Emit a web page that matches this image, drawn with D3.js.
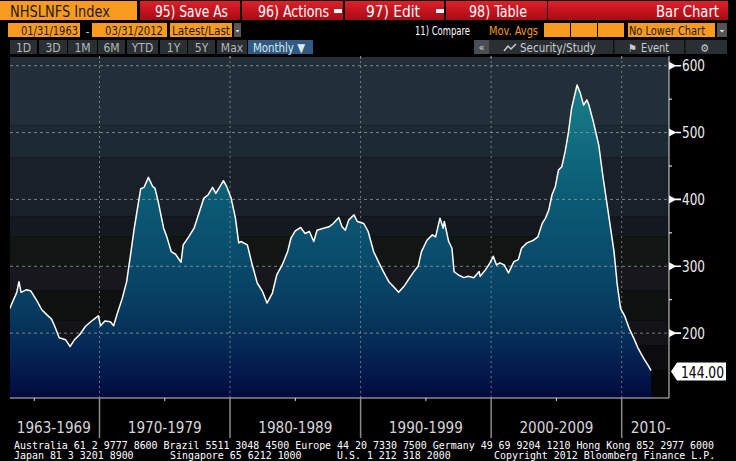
<!DOCTYPE html>
<html>
<head>
<meta charset="utf-8">
<script src="https://cdn.jsdelivr.net/npm/d3@7/dist/d3.min.js"></script>
<style>
html,body{margin:0;padding:0;background:#000;}
svg{display:block;}
text{font-family:"DejaVu Sans Condensed","DejaVu Sans",sans-serif;}
</style>
</head>
<body>
<svg id="chart" width="736" height="461"></svg>
<script>
// ---------------- data ----------------
const months = [
"1963-01","1963-08","1963-10","1963-12","1964-05","1964-09","1964-12","1965-03","1965-07","1965-12",
"1966-04","1966-07","1966-11","1967-05","1967-09","1968-01","1968-06","1968-11","1969-04","1969-08",
"1969-11","1970-01","1970-05","1970-10","1971-01","1971-04","1971-09","1972-01","1972-05","1972-08",
"1972-11","1973-02","1973-05","1973-09","1974-01","1974-03","1974-06","1974-11","1975-02","1975-06",
"1975-10","1976-03","1976-05","1976-10","1977-03","1977-07","1977-12","1978-04","1978-08","1978-11",
"1979-02","1979-06","1979-09","1980-01","1980-05","1980-08","1980-10","1981-04","1981-08","1982-01",
"1982-06","1982-10","1983-03","1983-07","1983-12","1984-05","1984-08","1984-12","1985-05","1985-09",
"1986-01","1986-05","1986-08","1987-02","1987-07","1987-11","1988-04","1988-07","1988-10","1989-01",
"1989-06","1989-09","1990-03","1990-07","1990-12","1991-05","1991-09","1992-02","1992-06","1992-11",
"1993-04","1993-08","1994-01","1994-05","1994-08","1995-01","1995-06","1995-09","1996-01","1996-04",
"1996-05","1996-09","1996-12","1997-02","1997-06","1997-11","1998-03","1998-08","1999-01","1999-02",
"1999-07","1999-11","2000-02","2000-05","2000-08","2000-12","2001-04","2001-09","2002-01","2002-04",
"2002-09","2003-03","2003-07","2003-11","2004-02","2004-05","2004-08","2004-11","2005-02","2005-05",
"2005-08","2005-11","2006-02","2006-07","2006-10","2007-01","2007-04","2007-06","2007-10","2008-03",
"2008-07","2008-12","2009-05","2009-08","2009-11","2010-03","2010-07","2010-11","2011-03","2011-08",
"2012-01","2012-03"];
const values = [
235,261,277,261,265,263,255,247,235,227,
221,210,193,190,180,190,198,210,217,222,
226,211,218,217,211,227,252,277,322,357,
387,416,418,433,419,417,397,357,344,322,
318,306,332,344,357,377,402,407,418,409,
417,428,419,402,372,335,337,332,305,275,
262,245,260,287,302,322,342,353,358,349,
352,337,354,357,359,364,373,359,354,369,
377,367,364,352,322,305,292,277,270,261,
270,280,292,300,322,339,347,344,372,357,
367,337,327,292,287,283,285,283,292,285,
295,305,315,302,305,302,290,307,310,327,
335,339,344,364,372,384,407,419,444,449,
471,499,536,571,559,541,549,541,516,481,
432,377,322,272,237,225,207,193,178,163,
150,144];
const lastValue = "144.00";
const yMajorTicks = [200,300,400,500,600];
const yMinorTicks = [250,350,450,550];
const decadeStarts = [1970,1980,1990,2000,2010];
const halfDecades = [1965,1975,1985,1995,2005];
const decadeLabels = ["1963-1969","1970-1979","1980-1989","1990-1999","2000-2009","2010-"];
const decadeLabelYears = [1966.5,1975,1985,1995,2005,2010];
const footerLine1 = ["Australia 61 2 9777 8600 Brazil 5511 3048 4500 Europe 44 20 7330 7500 Germany 49 69 9204 1210 Hong Kong 852 2977 6000"];
const footerLine2 = ["Japan 81 3 3201 8900","Singapore 65 6212 1000","U.S. 1 212 318 2000","Copyright 2012 Bloomberg Finance L.P."];

// ---------------- setup ----------------
const svg = d3.select("#chart");
const W = 736, H = 461;
const plot = {left:10, right:669, top:56, bottom:398};
const parseM = s => { const [y,m] = s.split("-").map(Number); return new Date(y, m, 0); };
const yearDate = yr => { const y = Math.floor(yr); const f = yr - y; return new Date(y, 0, 1 + Math.round(f*365)); };
const data = months.map((m,i)=>({date:parseM(m), value:values[i]}));

const x = d3.scaleTime().domain([new Date(1970,0,1), new Date(2010,0,1)]).range([99.5, 621.7]);
const y = d3.scaleLinear().domain([103, 613]).range([398, 57]);

svg.append("rect").attr("width",W).attr("height",H).attr("fill","#000");

const defs = svg.append("defs");
const ag = defs.append("linearGradient").attr("id","areaGrad").attr("gradientUnits","userSpaceOnUse")
  .attr("x1",0).attr("x2",0).attr("y1",57).attr("y2",398);
[[0,"#1b8592"],[0.12,"#177a88"],[0.3,"#0f677c"],[0.42,"#0b5a74"],[0.6,"#094a6a"],[0.72,"#073e61"],[0.83,"#052c56"],[0.93,"#03184a"],[1,"#010a3c"]]
  .forEach(s=>ag.append("stop").attr("offset",s[0]).attr("stop-color",s[1]));
const rg = defs.append("linearGradient").attr("id","redGrad").attr("x1",0).attr("x2",0).attr("y1",0).attr("y2",1);
[[0,"#dc222b"],[0.5,"#c4141e"],[1,"#a50d16"]].forEach(s=>rg.append("stop").attr("offset",s[0]).attr("stop-color",s[1]));
defs.append("clipPath").attr("id","plotClip").append("rect")
  .attr("x",plot.left).attr("y",plot.top).attr("width",plot.right-plot.left).attr("height",plot.bottom-plot.top);

// background bands (style)
const bands = [[613,511,"#232f38"],[511,463,"#1e2a33"],[463,375,"#1a2029"],[375,345,"#14191f"],[345,299,"#111614"],
  [299,264,"#17171d"],[264,219,"#0f1111"],[219,182,"#141418"],[182,145,"#0c0c0e"],[145,103,"#060606"]];
const g = svg.append("g").attr("clip-path","url(#plotClip)");
g.selectAll("rect.band").data(bands).join("rect")
  .attr("x",plot.left).attr("width",plot.right-plot.left)
  .attr("y",d=>y(d[0])).attr("height",d=>y(d[1])-y(d[0])).attr("fill",d=>d[2]);

// area & line
const area = d3.area().x(d=>x(d.date)).y0(plot.bottom).y1(d=>y(d.value));
const line = d3.line().x(d=>x(d.date)).y(d=>y(d.value));
g.append("path").datum(data).attr("d",area).attr("fill","url(#areaGrad)");

// grid
g.selectAll("line.hg").data(yMajorTicks).join("line")
  .attr("x1",plot.left).attr("x2",plot.right).attr("y1",d=>y(d)).attr("y2",d=>y(d))
  .attr("stroke","#9aa0a4").attr("stroke-opacity",0.75).attr("stroke-width",1).attr("stroke-dasharray","3,3");
g.selectAll("line.vg").data(decadeStarts).join("line")
  .attr("x1",d=>x(new Date(d,0,1))).attr("x2",d=>x(new Date(d,0,1)))
  .attr("y1",plot.top).attr("y2",plot.bottom)
  .attr("stroke","#9aa0a4").attr("stroke-opacity",0.7).attr("stroke-width",1).attr("stroke-dasharray","2,3");

g.append("path").datum(data).attr("d",line).attr("fill","none").attr("stroke","#fff").attr("stroke-width",1.5).attr("stroke-linejoin","round");

// right axis
svg.append("line").attr("x1",plot.right).attr("x2",plot.right).attr("y1",plot.top).attr("y2",plot.bottom)
  .attr("stroke","#d8d8d8").attr("stroke-width",1);
const yAx = svg.append("g");
yAx.selectAll("path.tk").data(yMajorTicks).join("path")
  .attr("d",d=>{const yy=y(d);return `M${plot.right},${yy-4}L${plot.right+6},${yy-0.8}L${plot.right+12},${yy-0.8}L${plot.right+12},${yy+0.8}L${plot.right+6},${yy+0.8}L${plot.right},${yy+4}Z`;})
  .attr("fill","#fff");
yAx.selectAll("line.mt").data(yMinorTicks).join("line")
  .attr("x1",plot.right).attr("x2",plot.right+3).attr("y1",d=>y(d)).attr("y2",d=>y(d))
  .attr("stroke","#fff").attr("stroke-width",1);
yAx.selectAll("text").data(yMajorTicks).join("text")
  .attr("x",682).attr("y",d=>y(d)+5.5).attr("fill","#ececec").attr("font-size",15)
  .attr("textLength",23).attr("lengthAdjust","spacingAndGlyphs").text(d=>d);

// last value label
const ly = y(values[values.length-1]);
svg.append("path").attr("d",`M671,${ly+1}L677,${ly-8}L726,${ly-8}L726,${ly+10}L677,${ly+10}Z`).attr("fill","#fff");
svg.append("text").attr("x",681).attr("y",ly+7).attr("fill","#000").attr("font-size",15)
  .attr("textLength",43).attr("lengthAdjust","spacingAndGlyphs").text(lastValue);

// bottom axis
svg.append("line").attr("x1",plot.left).attr("x2",plot.right).attr("y1",plot.bottom).attr("y2",plot.bottom)
  .attr("stroke","#c8c8c8").attr("stroke-width",1.2);
svg.selectAll("line.ht").data(halfDecades).join("line")
  .attr("x1",d=>x(new Date(d,0,1))).attr("x2",d=>x(new Date(d,0,1))).attr("y1",plot.bottom).attr("y2",plot.bottom+3)
  .attr("stroke","#ddd");
svg.selectAll("line.dl").data(decadeStarts).join("line")
  .attr("x1",d=>x(new Date(d,0,1))).attr("x2",d=>x(new Date(d,0,1))).attr("y1",plot.bottom).attr("y2",438)
  .attr("stroke","#8a8a8a").attr("stroke-width",1.5);
svg.selectAll("text.dlab").data(decadeLabels).join("text")
  .attr("x",(d,i)=> i===decadeLabels.length-1 ? x(new Date(2010,0,1))+9 : x(yearDate(decadeLabelYears[i])))
  .attr("text-anchor",(d,i)=> i===decadeLabels.length-1 ? "start":"middle")
  .attr("y",433).attr("fill","#d6d6d6").attr("font-size",16)
  .attr("textLength",(d,i)=> i===decadeLabels.length-1 ? 40 : 74).attr("lengthAdjust","spacingAndGlyphs")
  .text(d=>d);

// footer
const mono = '"DejaVu Sans Mono","Liberation Mono",monospace';
svg.append("text").attr("x",14).attr("y",449).attr("fill","#fff").attr("font-size",10).style("font-family",mono)
  .attr("textLength",700).attr("lengthAdjust","spacingAndGlyphs").text(footerLine1[0]);
const f2x = [14,170,337,494];
svg.selectAll("text.f2").data(footerLine2).join("text")
  .attr("x",(d,i)=>f2x[i]).attr("y",459).attr("fill","#fff").attr("font-size",10).style("font-family",mono)
  .attr("textLength",d=>d.length*5.98).attr("lengthAdjust","spacingAndGlyphs").text(d=>d);

// ---------------- header ----------------
const hd = svg.append("g");
const orange = "#f99b1e";
function box(x0,y0,w,h,fill){hd.append("rect").attr("x",x0).attr("y",y0).attr("width",w).attr("height",h).attr("fill",fill);}
function txt(str,x0,yb,size,fill,len,anchor,fam){
  const t = hd.append("text").attr("x",x0).attr("y",yb).attr("font-size",size).attr("fill",fill).text(str);
  if(len) t.attr("textLength",len).attr("lengthAdjust","spacingAndGlyphs");
  if(anchor) t.attr("text-anchor",anchor);
  if(fam) t.style("font-family",fam);
  return t;
}
// row 1
box(0,1,137,19,orange);
txt("NHSLNFS Index",10,17,16,"#1c1c1c",100);
const redBtns = [[140,100],[242,101],[345,99],[446,101],[548,180]];
redBtns.forEach(b=>box(b[0],1,b[1],19,"url(#redGrad)"));
txt("95) Save As",155,17,16,"#fff",73);
txt("96) Actions",258,17,16,"#fff",71);
box(334,9,8,4,"#fff");
txt("97) Edit",366,17,16,"#fff",54);
box(436,9,8,4,"#fff");
txt("98) Table",469,17,16,"#fff",58);
txt("Bar Chart",719,17,16,"#fff",63,"end");
// row 2
box(8,23,72,14,orange);
txt("01/31/1963",21,35,12,"#1c1c1c",57);
txt("-",87.5,34.5,11,"#f0e0c8",null,"middle");
box(92,23,75,14,orange);
txt("03/31/2012",105,35,12,"#1c1c1c",58);
box(170,23,62,14,orange);
txt("Latest/Last",172,35,12,"#1c1c1c",58);
box(234,23,7,14,"#555");
hd.append("path").attr("d","M235.5,30L239.5,30L237.5,32.5Z").attr("fill","#ddd");
txt("11) Compare",415,35,12,"#fff",55);
txt("Mov. Avgs",489,35,12,orange,49);
box(544,23,26,14,orange); box(571,23,26,14,orange); box(598,23,26,14,orange);
box(628,23,87,14,orange);
txt("No Lower Chart",629,35,12,"#1c1c1c",76);
box(717,23,10,14,"#555");
hd.append("path").attr("d","M719.5,30L724.5,30L722,32.5Z").attr("fill","#ddd");
// row 3
const rangeBtns = [["1D",10,27],["3D",39,28],["1M",68,29],["6M",98,27],["YTD",127,31],["1Y",160,27],["5Y",188,27],["Max",217,30]];
rangeBtns.forEach(b=>{box(b[1],40,b[2],14,"#2a2f33"); txt(b[0],b[1]+b[2]/2,51.5,12,"#b4b8bb",null,"middle");});
box(248,40,65,14,"#2f5a82");
txt("Monthly ▼",253,51.5,12,"#dfe8f0",52);
box(474,40,253,14,"#2a2f33");
box(474,40,15,14,"#4a4e52");
txt("«",481.5,51,11,"#ddd",null,"middle");
box(613,40,1.5,14,"#111"); box(684,40,1.5,14,"#111");
hd.append("path").attr("d","M504,51L508,46L511,49L516,44").attr("fill","none").attr("stroke","#c8c8c8").attr("stroke-width",1.5);
txt("Security/Study",520,51.5,12,"#c8ccd0",76);
txt("⚑",628,51.5,11,"#c8ccd0");
txt("Event",641,51.5,12,"#c8ccd0",28);
txt("⚙",705,51.5,11,"#c8ccd0",null,"middle");
// top tick marks at plot top
svg.selectAll("line.tt").data(decadeStarts).join("line")
  .attr("x1",d=>x(new Date(d,0,1))).attr("x2",d=>x(new Date(d,0,1))).attr("y1",56).attr("y2",59)
  .attr("stroke","#888");
</script>
</body>
</html>
